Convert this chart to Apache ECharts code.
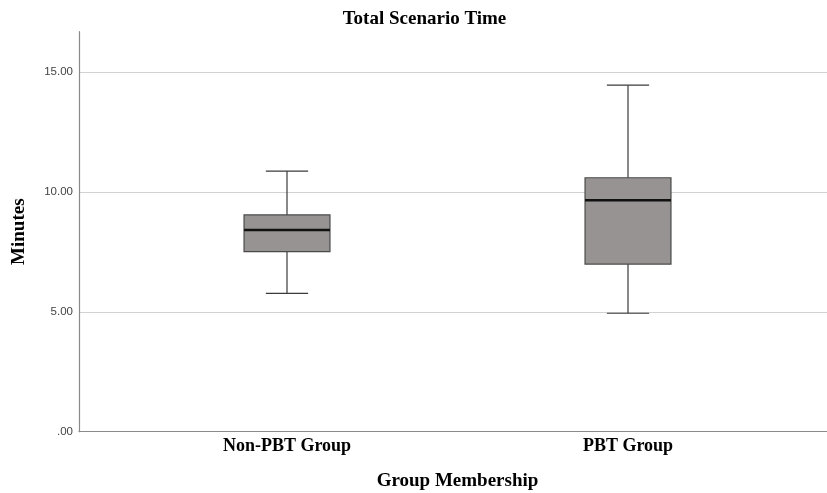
<!DOCTYPE html>
<html>
<head>
<meta charset="utf-8">
<script src="https://cdn.jsdelivr.net/npm/echarts@6/dist/echarts.min.js"></script>
<style>html,body{margin:0;padding:0;background:#fff;}#c{width:827px;height:493px;}</style>
</head>
<body>
<div id="c"></div>
<script>
const categories = ['Non-PBT Group', 'PBT Group'];
const whiskerLow  = [5.77, 4.94];
const quartile1   = [7.51, 6.99];
const medians     = [8.41, 9.65];
const quartile3   = [9.04, 10.59];
const whiskerHigh = [10.87, 14.45];
const yTicks = [0, 5, 10, 15];

const boxData = categories.map((c, i) => [i, whiskerLow[i], quartile1[i], medians[i], quartile3[i], whiskerHigh[i]]);

const YMAX = 16.68;
const chart = echarts.init(document.getElementById('c'), null, {renderer: 'canvas'});

function renderItem(params, api) {
  const x = api.value(0);
  const band = api.size([1, 0])[0];
  const hw = band * 0.126;
  const cw = band * 0.062;
  const pMin = api.coord([x, api.value(1)]);
  const pQ1 = api.coord([x, api.value(2)]);
  const pMed = api.coord([x, api.value(3)]);
  const pQ3 = api.coord([x, api.value(4)]);
  const pMax = api.coord([x, api.value(5)]);
  const cx = pMed[0];
  const lineStyle = {stroke: '#3a3a3a', lineWidth: 1.2};
  return {
    type: 'group',
    children: [
      {type: 'line', shape: {x1: cx, y1: pQ3[1], x2: cx, y2: pMax[1]}, style: lineStyle},
      {type: 'line', shape: {x1: cx, y1: pQ1[1], x2: cx, y2: pMin[1]}, style: lineStyle},
      {type: 'line', shape: {x1: cx - cw, y1: pMax[1], x2: cx + cw, y2: pMax[1]}, style: lineStyle},
      {type: 'line', shape: {x1: cx - cw, y1: pMin[1], x2: cx + cw, y2: pMin[1]}, style: lineStyle},
      {type: 'rect', shape: {x: cx - hw, y: pQ3[1], width: hw * 2, height: pQ1[1] - pQ3[1]},
        style: {fill: '#979392', stroke: '#4a4a4a', lineWidth: 1.2}},
      {type: 'line', shape: {x1: cx - hw, y1: pMed[1], x2: cx + hw, y2: pMed[1]}, style: {stroke: '#111', lineWidth: 2.6}}
    ]
  };
}

chart.setOption({
  animation: false,
  backgroundColor: '#fff',
  title: {
    text: 'Total Scenario Time', left: 419.5, top: 5, textAlign: 'center',
    textStyle: {fontFamily: 'Liberation Serif', fontWeight: 'bold', fontSize: 19, color: '#000'}
  },
  grid: [
    {left: 79, right: 0, top: 31.7, bottom: 61.3, containLabel: false, outerBoundsMode: 'none'},
    {left: 116.5, right: 28.5, top: 31.7, bottom: 61.3, containLabel: false, outerBoundsMode: 'none'}
  ],
  xAxis: [
    {gridIndex: 0, type: 'value', min: 0, max: 1,
      axisLine: {show: true, lineStyle: {color: '#8a8a8a', width: 1.2}},
      axisTick: {show: false}, axisLabel: {show: false}, splitLine: {show: false}},
    {gridIndex: 1, type: 'category', data: categories,
      axisLine: {show: false}, axisTick: {show: false},
      axisLabel: {margin: 6, fontFamily: 'Liberation Serif', fontWeight: 'bold', fontSize: 18, color: '#000'},
      name: 'Group Membership', nameLocation: 'middle', nameGap: 40,
      nameTextStyle: {fontFamily: 'Liberation Serif', fontWeight: 'bold', fontSize: 19, color: '#000'}}
  ],
  yAxis: [
    {gridIndex: 0, type: 'value', min: 0, max: YMAX, interval: 5,
      axisLine: {show: true, lineStyle: {color: '#8a8a8a', width: 1.2}},
      axisTick: {show: false},
      axisLabel: {margin: 6, fontFamily: 'Liberation Sans', fontSize: 11.5, color: '#444', showMaxLabel: false,
        formatter: v => yTicks.indexOf(v) >= 0 ? (v === 0 ? '.00' : v.toFixed(2)) : ''},
      splitLine: {show: true, showMinLine: false, showMaxLine: false, lineStyle: {color: '#d2d2d2', width: 1.2}},
      name: 'Minutes', nameLocation: 'middle', nameGap: 50, nameRotate: 90,
      nameTextStyle: {fontFamily: 'Liberation Serif', fontWeight: 'bold', fontSize: 19, color: '#000'}},
    {gridIndex: 1, type: 'value', min: 0, max: YMAX, show: false}
  ],
  series: [{
    type: 'custom',
    xAxisIndex: 1, yAxisIndex: 1,
    renderItem: renderItem,
    encode: {x: 0, y: [1, 2, 3, 4, 5]},
    data: boxData
  }]
});
</script>
</body>
</html>
